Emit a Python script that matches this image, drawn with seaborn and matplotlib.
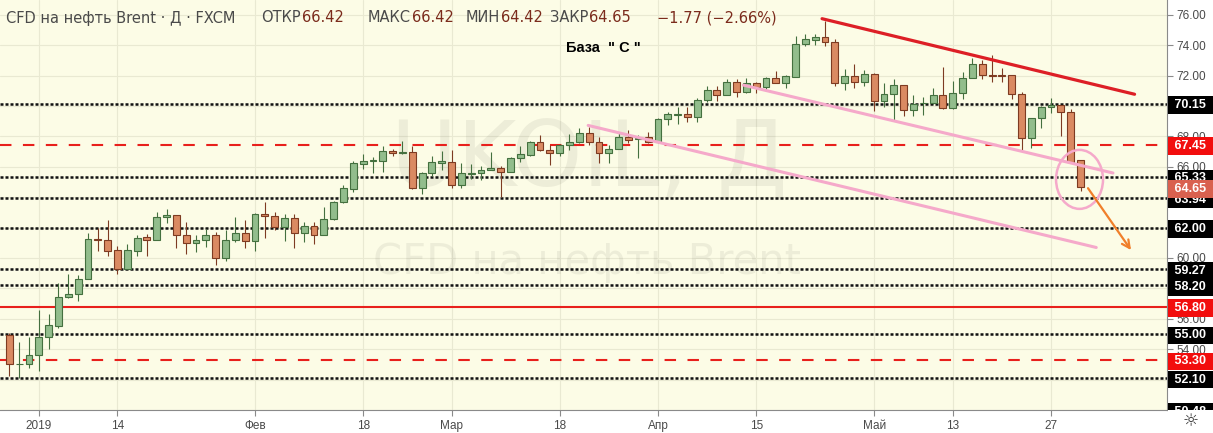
import matplotlib
matplotlib.use("Agg")
import matplotlib.pyplot as plt
from matplotlib.patches import Ellipse, Rectangle
import numpy as np
import pandas as pd
import seaborn as sns

# daily candles CFD Brent (FXCM), index 0 = 27 Dec 2018
opens = [54.94, 53.00, 53.02, 53.59, 54.81, 55.51, 57.43, 57.60, 58.65, 61.28,
         61.21, 60.51, 59.29, 60.49, 61.36, 61.21, 62.68, 62.81, 61.53, 60.96,
         61.15, 61.53, 60.00, 61.21, 61.66, 61.13, 62.88, 62.75, 62.02, 62.62,
         61.66, 62.09, 61.53, 62.56, 63.67, 64.52, 66.19, 66.40, 66.40, 67.04,
         66.93, 66.94, 64.63, 65.57, 66.27, 66.34, 64.78, 65.55, 65.57, 65.82,
         65.95, 65.63, 66.55, 66.77, 67.62, 67.13, 66.92, 67.41, 67.66, 68.24,
         67.66, 66.88, 67.19, 67.98, 67.85, 67.98, 67.62, 69.11, 69.43, 69.45,
         69.26, 70.37, 71.07, 70.75, 71.56, 70.92, 71.50, 71.24, 71.82, 71.54,
         71.93, 74.07, 74.37, 74.54, 74.24, 71.54, 71.97, 71.60, 72.10, 70.32,
         70.81, 71.37, 69.74, 70.17, 70.21, 70.73, 69.89, 70.84, 71.86, 72.76,
         72.01, 72.00, 72.01, 70.79, 67.88, 69.23, 69.94, 70.09, 69.61, 66.42]
highs = [55.09, 54.45, 54.83, 56.58, 56.30, 58.33, 58.93, 58.86, 61.66, 61.96,
         62.51, 60.78, 60.89, 61.49, 61.60, 63.03, 63.20, 62.81, 62.38, 61.53,
         61.91, 61.70, 61.81, 62.70, 62.49, 62.94, 63.67, 63.03, 62.88, 62.88,
         62.38, 62.38, 63.34, 63.75, 64.80, 66.38, 66.81, 66.66, 67.34, 67.19,
         67.69, 67.36, 65.63, 66.70, 67.02, 67.09, 66.27, 66.17, 66.08, 66.94,
         66.06, 66.66, 67.36, 67.69, 68.09, 67.41, 67.51, 68.16, 68.56, 68.62,
         67.98, 67.45, 68.30, 68.41, 68.09, 68.30, 69.20, 69.58, 69.90, 69.90,
         70.50, 71.28, 71.28, 71.75, 71.75, 71.82, 71.60, 71.92, 72.31, 72.03,
         74.60, 74.71, 74.71, 75.60, 74.39, 72.46, 72.74, 72.35, 72.18, 71.54,
         71.76, 71.37, 70.69, 70.60, 71.18, 72.53, 71.67, 72.23, 73.15, 73.02,
         73.36, 72.51, 72.01, 70.94, 69.23, 70.02, 70.51, 70.09, 69.81, 66.42]
lows = [52.21, 52.10, 52.74, 52.57, 54.02, 55.40, 57.39, 57.16, 58.65, 60.46,
        60.10, 58.97, 59.25, 60.10, 60.10, 61.21, 62.28, 60.64, 60.27, 60.42,
        60.74, 59.53, 59.82, 61.06, 60.68, 60.46, 61.32, 61.81, 61.13, 60.68,
        61.06, 60.91, 61.53, 62.50, 63.60, 64.37, 65.87, 65.59, 65.63, 66.72,
        66.87, 64.52, 64.24, 65.38, 65.80, 64.58, 64.58, 65.22, 65.16, 65.76,
        63.98, 65.63, 66.34, 66.72, 67.04, 66.12, 66.72, 67.09, 67.56, 67.41,
        66.28, 66.28, 67.19, 67.56, 66.60, 67.56, 67.56, 68.73, 68.83, 68.94,
        68.94, 70.28, 70.33, 70.69, 70.60, 70.86, 70.86, 71.07, 71.50, 71.18,
        71.90, 73.96, 74.02, 73.96, 71.28, 71.07, 71.18, 71.28, 69.68, 69.96,
        69.04, 69.36, 69.36, 69.40, 70.11, 69.83, 69.83, 70.45, 71.86, 71.80,
        71.59, 71.59, 70.45, 67.09, 67.24, 68.52, 69.55, 68.05, 66.23, 64.42]
closes = [53.02, 53.05, 53.59, 54.81, 55.58, 57.43, 57.60, 58.65, 61.28, 61.19,
          60.49, 59.29, 60.51, 61.34, 61.21, 62.68, 62.81, 61.53, 60.96, 61.15,
          61.53, 60.00, 61.21, 61.66, 61.13, 62.88, 62.73, 62.02, 62.62, 61.66,
          62.09, 61.53, 62.56, 63.67, 64.58, 66.23, 66.40, 66.42, 67.04, 66.91,
          66.95, 64.63, 65.57, 66.29, 66.38, 64.78, 65.57, 65.60, 65.82, 65.95,
          65.63, 66.55, 66.81, 67.62, 67.09, 66.92, 67.41, 67.62, 68.24, 67.66,
          66.88, 67.19, 67.98, 67.77, 67.90, 67.62, 69.11, 69.45, 69.47, 69.26,
          70.37, 71.07, 70.75, 71.56, 70.92, 71.50, 71.24, 71.82, 71.54, 71.97,
          74.07, 74.39, 74.54, 74.24, 71.54, 71.97, 71.60, 72.10, 70.32, 70.81,
          71.37, 69.74, 70.15, 70.21, 70.73, 69.89, 70.86, 71.86, 72.76, 72.01,
          72.00, 71.98, 70.79, 67.88, 69.23, 69.94, 70.04, 69.59, 66.34, 64.65]

tick_idx = [3, 11, 25, 36, 45, 56, 66, 76, 88, 96, 106]
tick_labels = ["2019", "14", "Фев", "18", "Мар", "18", "Апр", "15", "Май", "13", "27"]

black_levels = [70.15, 65.33, 63.94, 62.00, 59.27, 58.20, 55.00, 52.10]
red_dashed_levels = [67.45, 53.30]
red_solid_levels = [56.80]
last_close = 64.65
axis_low = 50.48

# header legend: (label, value) pairs and the start of each pair in px
ohlc_labels = ["ОТКР", "МАКС", "МИН", "ЗАКР"]
ohlc_values = ["66.42", "66.42", "64.42", "64.65"]
ohlc_x = [261, 368, 466, 550]
change_text = "−1.77 (−2.66%)"

# hand-drawn trend lines: (index list, price list)
red_trend_x, red_trend_y = [82.7, 114.5], [75.74, 70.77]
pink_up_x, pink_up_y = [74.7, 112.3], [71.37, 65.59]
pink_low_x, pink_low_y = [58.9, 110.6], [68.72, 60.69]
circle_center = (108.9, 65.17)
arrow_from, arrow_to = (109.6, 64.74), (114.3, 60.37)

BG = "#fcfce6"
GRID = "#e9e9d2"
UP_FILL, UP_EDGE = "#92bd8c", "#44703f"
DN_FILL, DN_EDGE = "#da8a62", "#7d3b22"
RED = "#e8201c"
PINK = "#f5a9ca"
LABEL_GRAY = "#4a4a4a"
VALUE_BROWN = "#7b2b1c"

sns.set_theme(style="white")
plt.rcParams["font.family"] = ["Liberation Sans", "DejaVu Sans"]

df = pd.DataFrame({"o": opens, "h": highs, "l": lows, "c": closes})
df["i"] = np.arange(len(df))
df["up"] = df["c"] >= df["o"]
df["bottom"] = df[["o", "c"]].min(axis=1)
df["body"] = (df["c"] - df["o"]).abs().clip(lower=0.05)

fig = plt.figure(figsize=(12.13, 4.33), dpi=100)
fig.patch.set_facecolor("white")
ax = fig.add_axes([0, 23 / 433, 1167 / 1213, 410 / 433])
ax.set_facecolor(BG)

# grid
for t in tick_idx:
    ax.axvline(t, color=GRID, lw=0.8, zorder=0)
for g in np.arange(50, 78, 2):
    ax.axhline(g, color=GRID, lw=0.8, zorder=0)

# watermark
ax.text(0.505, 0.608, "UKOIL, Д", transform=ax.transAxes, ha="center", va="center",
        fontsize=65, color="#000000", alpha=0.06, family="DejaVu Sans", zorder=1)
ax.text(0.503, 0.362, "CFD на нефть Brent", transform=ax.transAxes, ha="center", va="center",
        fontsize=30, color="#000000", alpha=0.06, family="DejaVu Sans", zorder=1)

# levels
for lv in black_levels:
    ax.axhline(lv, color="#111111", lw=1.8, ls=(0, (1.2, 0.8)), zorder=2)
for lv in red_dashed_levels:
    ax.axhline(lv, color=RED, lw=1.5, ls=(0, (5.5, 5.5)), zorder=2)
for lv in red_solid_levels:
    ax.axhline(lv, color=RED, lw=1.5, zorder=2)

# candles
edge = np.where(df["up"], UP_EDGE, DN_EDGE)
fill = np.where(df["up"], UP_FILL, DN_FILL)
ax.vlines(df["i"], df["l"], df["h"], colors=edge, lw=0.8, zorder=3)
ax.bar(df["i"], df["body"], bottom=df["bottom"], width=0.7, color=fill,
       edgecolor=edge, linewidth=0.8, zorder=4)

# trend lines
sns.lineplot(x=red_trend_x, y=red_trend_y, ax=ax, color="#dd1f26", lw=2.3, zorder=5)
sns.lineplot(x=pink_up_x, y=pink_up_y, ax=ax, color=PINK, lw=2.2, zorder=5)
sns.lineplot(x=pink_low_x, y=pink_low_y, ax=ax, color=PINK, lw=2.2, zorder=5)
ax.add_patch(Ellipse(circle_center, width=4.78, height=3.88, fill=False,
                     ec=PINK, lw=1.8, zorder=5))
ax.annotate("", xy=arrow_to, xytext=arrow_from,
            arrowprops=dict(arrowstyle="->", color="#f07f2a", lw=1.6, mutation_scale=14),
            zorder=6)

ax.set_xlim(-0.95, 117.8)
ax.set_ylim(axis_low, 76.97)

# axes
ax.yaxis.tick_right()
yt = np.arange(50, 78, 2)
ax.set_yticks(yt)
ax.set_yticklabels([f"{v:.2f}" for v in yt], color=LABEL_GRAY, fontsize=8.5)
ax.set_xticks(tick_idx)
ax.set_xticklabels(tick_labels, color=LABEL_GRAY, fontsize=8.5)
ax.tick_params(axis="both", length=4, width=0.8, color="#8a8a8a", pad=3,
               bottom=True, right=True, left=False)
for side in ["top", "left"]:
    ax.spines[side].set_visible(False)
for side in ["right", "bottom"]:
    ax.spines[side].set_color("#8a8a8a")
    ax.spines[side].set_linewidth(0.8)

# price labels on the right scale
ytr = ax.get_yaxis_transform()
def price_box(val, fc, shift_px=0):
    ax.annotate(f" {val:.2f}    ", xy=(1.0035, val), xycoords=ytr,
                xytext=(0, -shift_px * 0.72), textcoords="offset points",
                ha="left", va="center", fontsize=9, color="white", fontweight="bold",
                annotation_clip=False, zorder=8,
                bbox=dict(boxstyle="square,pad=0.22", fc=fc, ec="none"))

for lv in black_levels:
    price_box(lv, "black", 1.5)
for lv in red_dashed_levels + red_solid_levels:
    price_box(lv, "#f20d0d", 1.5)
price_box(last_close, "#d9614f", 1.5)
price_box(axis_low, "black", 9)

# cover the bottom-right corner and draw the settings glyph
fig.add_artist(Rectangle((1167.5 / 1213, 0), 46 / 1213, 22.8 / 433, transform=fig.transFigure,
                         fc="white", ec="none", zorder=10))
fig.text(1191 / 1213, 1 - 421 / 433, "☼", ha="center", va="center", fontsize=13,
         color="#333333", family="DejaVu Sans", zorder=11)

# header
renderer = fig.canvas.get_renderer()
def hdr(x, s, color):
    t = fig.text(x / 1213, 1 - 18 / 433, s, ha="left", va="center", fontsize=10.5,
                 color=color, family="DejaVu Sans")
    return t.get_window_extent(renderer).x1

hdr(6, "CFD на нефть Brent · Д · FXCM", LABEL_GRAY)
for lab, val, x0 in zip(ohlc_labels, ohlc_values, ohlc_x):
    x1 = hdr(x0, lab, LABEL_GRAY)
    hdr(x1 + 1, val, VALUE_BROWN)
hdr(657, change_text, VALUE_BROWN)

fig.text(603 / 1213, 1 - 48 / 433, 'База  " C "', ha="center", va="center",
         fontsize=10.5, fontweight="bold", color="black")

fig.savefig("out.png", dpi=100, facecolor="white")
